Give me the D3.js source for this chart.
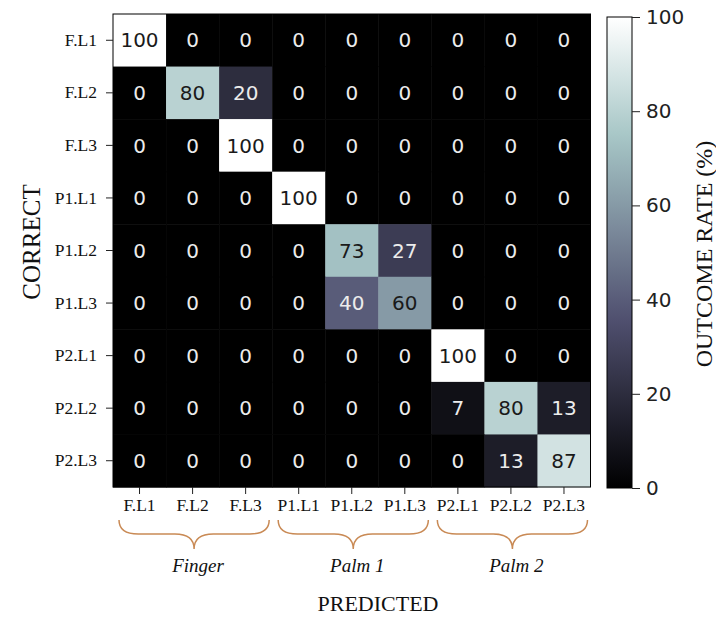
<!DOCTYPE html>
<html>
<head>
<meta charset="utf-8">
<script src="https://cdn.jsdelivr.net/npm/d3@7"></script>
<style>
  html, body { margin: 0; padding: 0; background: #fff; }
  svg { display: block; }
</style>
</head>
<body>
<svg id="chart" width="716" height="617"></svg>
<script>
"use strict";

var labels = ["F.L1", "F.L2", "F.L3", "P1.L1", "P1.L2", "P1.L3", "P2.L1", "P2.L2", "P2.L3"];

var matrix = [
  [100, 0, 0, 0, 0, 0, 0, 0, 0],
  [0, 80, 20, 0, 0, 0, 0, 0, 0],
  [0, 0, 100, 0, 0, 0, 0, 0, 0],
  [0, 0, 0, 100, 0, 0, 0, 0, 0],
  [0, 0, 0, 0, 73, 27, 0, 0, 0],
  [0, 0, 0, 0, 40, 60, 0, 0, 0],
  [0, 0, 0, 0, 0, 0, 100, 0, 0],
  [0, 0, 0, 0, 0, 0, 7, 80, 13],
  [0, 0, 0, 0, 0, 0, 0, 13, 87]
];

var groups = [
  { name: "Finger", from: "F.L1", to: "F.L3" },
  { name: "Palm 1", from: "P1.L1", to: "P1.L3" },
  { name: "Palm 2", from: "P2.L1", to: "P2.L3" }
];

var cbTicks = [0, 20, 40, 60, 80, 100];

// matplotlib "bone" colormap
function bone(t) {
  var r = d3.scaleLinear().domain([0, 0.746032, 1]).range([0, 0.652778, 1]).clamp(true);
  var g = d3.scaleLinear().domain([0, 0.365079, 0.746032, 1]).range([0, 0.319444, 0.777778, 1]).clamp(true);
  var b = d3.scaleLinear().domain([0, 0.365079, 1]).range([0, 0.444444, 1]).clamp(true);
  return d3.rgb(r(t) * 255, g(t) * 255, b(t) * 255).toString();
}

var svg = d3.select("#chart");
var serif = "'Liberation Serif', 'Times New Roman', serif";
var sans = "'DejaVu Sans', sans-serif";

var mLeft = 113, mTop = 14, mRight = 590.5, mBottom = 487;

var x = d3.scaleBand().domain(labels).range([mLeft, mRight]);
var y = d3.scaleBand().domain(labels).range([mTop, mBottom]);
var color = function (v) { return bone(v / 100); };

var cells = [];
matrix.forEach(function (row, i) {
  row.forEach(function (v, j) {
    cells.push({ row: labels[i], col: labels[j], value: v });
  });
});

var g = svg.append("g");
g.selectAll("rect.cell").data(cells).enter().append("rect")
  .attr("class", "cell")
  .attr("x", function (d) { return x(d.col); })
  .attr("y", function (d) { return y(d.row); })
  .attr("width", x.bandwidth() + 0.5)
  .attr("height", y.bandwidth() + 0.5)
  .attr("fill", function (d) { return color(d.value); });

g.selectAll("text.val").data(cells).enter().append("text")
  .attr("class", "val")
  .attr("x", function (d) { return x(d.col) + x.bandwidth() / 2; })
  .attr("y", function (d) { return y(d.row) + y.bandwidth() / 2; })
  .attr("dy", "0.36em")
  .attr("text-anchor", "middle")
  .attr("font-family", sans)
  .attr("font-size", 20)
  .attr("fill", function (d) { return d.value < 50 ? "#ececec" : "#1a1a1a"; })
  .text(function (d) { return d.value; });

svg.append("rect")
  .attr("x", mLeft).attr("y", mTop)
  .attr("width", mRight - mLeft).attr("height", mBottom - mTop)
  .attr("fill", "none").attr("stroke", "#000").attr("stroke-width", 1);

// axes
var yAxis = svg.append("g")
  .attr("transform", "translate(" + mLeft + ",0)")
  .call(d3.axisLeft(y).tickSize(7).tickPadding(9));
var xAxis = svg.append("g")
  .attr("transform", "translate(0," + mBottom + ")")
  .call(d3.axisBottom(x).tickSize(7).tickPadding(5));
[xAxis, yAxis].forEach(function (a) {
  a.select(".domain").remove();
  a.selectAll("text").attr("font-family", serif).attr("font-size", 17.5).attr("fill", "#111");
  a.selectAll("line").attr("stroke", "#222");
});

// colorbar
var cbX = 607, cbW = 25, cbTop = 17, cbBottom = 488;
var cy = d3.scaleLinear().domain([0, 100]).range([cbBottom, cbTop]);
var defs = svg.append("defs");
var grad = defs.append("linearGradient").attr("id", "cbgrad")
  .attr("x1", 0).attr("y1", 1).attr("x2", 0).attr("y2", 0);
d3.range(0, 101, 5).forEach(function (v) {
  grad.append("stop").attr("offset", (v / 100)).attr("stop-color", color(v));
});
svg.append("rect")
  .attr("x", cbX).attr("y", cbTop).attr("width", cbW).attr("height", cbBottom - cbTop)
  .attr("fill", "url(#cbgrad)").attr("stroke", "#000").attr("stroke-width", 1);
var cbAxis = svg.append("g")
  .attr("transform", "translate(" + (cbX + cbW) + ",0)")
  .call(d3.axisRight(cy).tickValues(cbTicks).tickSize(8).tickPadding(6));
cbAxis.select(".domain").remove();
cbAxis.selectAll("text").attr("font-family", sans).attr("font-size", 20).attr("fill", "#222");
cbAxis.selectAll("line").attr("stroke", "#222");

// axis titles
svg.append("text")
  .attr("transform", "translate(40,242) rotate(-90)")
  .attr("text-anchor", "middle")
  .attr("font-family", serif).attr("font-size", 25).attr("fill", "#111")
  .text("CORRECT");
svg.append("text")
  .attr("transform", "translate(712,254) rotate(-90)")
  .attr("text-anchor", "middle")
  .attr("font-family", serif).attr("font-size", 24).attr("fill", "#111")
  .text("OUTCOME RATE (%)");
svg.append("text")
  .attr("x", 378).attr("y", 611)
  .attr("text-anchor", "middle")
  .attr("font-family", serif).attr("font-size", 22).attr("fill", "#111")
  .text("PREDICTED");

// group braces
function bracePath(x0, x1, yTop, yMid, yTip) {
  var xm = (x0 + x1) / 2;
  var r = 12;
  return "M" + x0 + "," + yTop +
    " Q" + x0 + "," + yMid + " " + (x0 + r * 1.6) + "," + yMid +
    " L" + (xm - r * 1.6) + "," + yMid +
    " Q" + xm + "," + yMid + " " + xm + "," + yTip +
    " Q" + xm + "," + yMid + " " + (xm + r * 1.6) + "," + yMid +
    " L" + (x1 - r * 1.6) + "," + yMid +
    " Q" + x1 + "," + yMid + " " + x1 + "," + yTop;
}
function braceEnds(d) {
  return [x(d.from) + 6, x(d.to) + x.bandwidth() - 3];
}
var gb = svg.append("g");
gb.selectAll("path").data(groups).enter().append("path")
  .attr("d", function (d) {
    var e = braceEnds(d);
    return bracePath(e[0], e[1], 520, 534, 549);
  })
  .attr("fill", "none").attr("stroke", "#c98a55").attr("stroke-width", 1.5);
gb.selectAll("text").data(groups).enter().append("text")
  .attr("x", function (d) { var e = braceEnds(d); return (e[0] + e[1]) / 2 + 4; })
  .attr("y", 572)
  .attr("text-anchor", "middle")
  .attr("font-family", serif).attr("font-style", "italic").attr("font-size", 19).attr("fill", "#111")
  .text(function (d) { return d.name; });
</script>
</body>
</html>
